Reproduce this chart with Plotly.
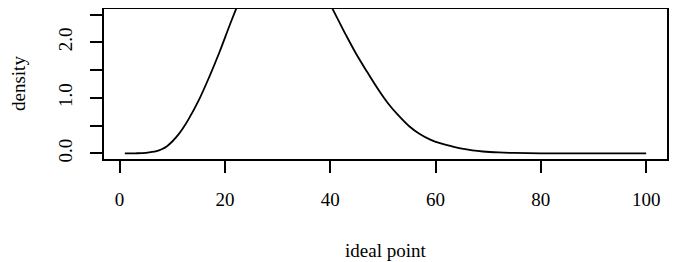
import plotly.graph_objects as go

# ideal point grid and estimated density values
ideal_point = [1, 3, 5, 7, 8, 9, 10, 11, 12, 13, 15, 17, 19, 21, 23, 25, 27, 29, 31, 33, 35, 37, 39,
               41, 43, 45, 47, 49, 51, 53, 55, 57, 59, 61, 63, 65, 67, 69, 72, 75, 80, 90, 100]
density = [0.0, 0.003, 0.012, 0.04, 0.075, 0.13, 0.215, 0.32, 0.45, 0.6, 0.95, 1.37, 1.83, 2.33,
           2.8, 3.2, 3.5, 3.7, 3.78, 3.72, 3.52, 3.2, 2.86, 2.5, 2.13, 1.78, 1.47, 1.17, 0.9,
           0.68, 0.49, 0.35, 0.25, 0.18, 0.13, 0.085, 0.055, 0.035, 0.018, 0.009, 0.003,
           0.0005, 0.0]

x_ticks = [0, 20, 40, 60, 80, 100]
x_ticklabels = ["0", "20", "40", "60", "80", "100"]
y_ticks = [0.0, 0.5, 1.0, 1.5, 2.0, 2.5]
y_ticklabels = ["0.0", "", "1.0", "", "2.0", ""]

FONT = "Liberation Serif, Times New Roman, serif"
FS = 19

OFF = 8  # the page body margin shifts the figure by 8px
W, H = 678 - OFF, 262 - OFF
ML, MT = 104 - OFF, 9 - OFF
MR = 11
MB = H - (159 - OFF)
plot_h = H - MT - MB
plot_w = W - ML - MR

fig = go.Figure()
fig.add_trace(go.Scatter(x=ideal_point, y=density, mode="lines",
                         line=dict(color="black", width=1.8, shape="spline", smoothing=1.0),
                         showlegend=False, hoverinfo="skip"))

axis_common = dict(showgrid=False, zeroline=False, showline=True, mirror=True,
                   linecolor="black", linewidth=1.8, ticks="outside", ticklen=12,
                   tickwidth=1.8, tickcolor="black", automargin=False,
                   tickfont=dict(family=FONT, size=FS, color="black"))

fig.update_layout(
    width=W, height=H,
    margin=dict(l=ML, r=MR, t=MT, b=MB, autoexpand=False),
    paper_bgcolor="white", plot_bgcolor="white",
    font=dict(family=FONT, size=FS, color="black"),
    xaxis=dict(range=[-2.96, 103.96], tickvals=x_ticks, ticktext=x_ticklabels,
               ticklabelstandoff=10, **axis_common),
    yaxis=dict(range=[-0.1, 2.6], tickvals=y_ticks, ticktext=y_ticklabels,
               tickangle=-90, ticklabelstandoff=11, **axis_common),
    annotations=[
        dict(text="ideal point", x=0.5, xref="paper", y=(159 - 250) / plot_h,
             yref="paper", yanchor="middle", showarrow=False,
             font=dict(family=FONT, size=FS, color="black")),
        dict(text="density", textangle=-90, x=(18 - 104) / plot_w, xanchor="center",
             y=0.5, xref="paper", yref="paper",
             showarrow=False, font=dict(family=FONT, size=FS, color="black")),
    ],
)

fig.write_html("out.html")
